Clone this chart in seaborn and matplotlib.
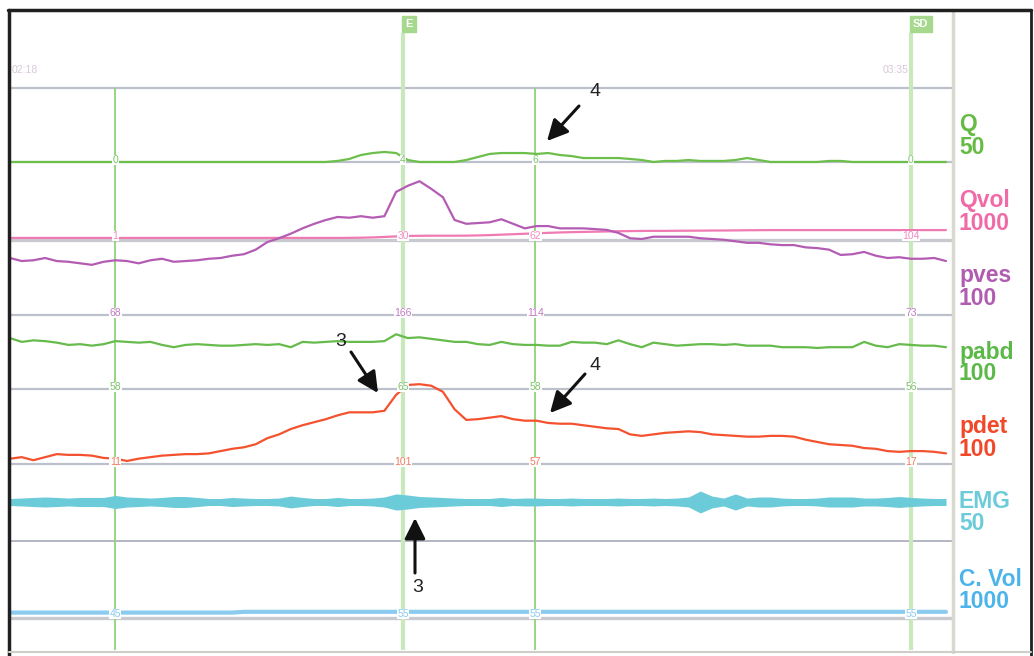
import numpy as np
import pandas as pd
import matplotlib
matplotlib.use('Agg')
import matplotlib.pyplot as plt
import seaborn as sns
from matplotlib.lines import Line2D

# urodynamic trace, one sample per second starting at 02:18
t_sec = np.arange(138, 219)

# Q, ml/s
q_flow = [0, 0, 0, 0, 0, 0, 0, 0, 0, 0,
          0, 0, 0, 0, 0, 0, 0, 0, 0, 0,
          0, 0, 0, 0, 0, 0, 0, 0, 0.7, 2.0,
          4.6, 5.9, 6.6, 5.9, 1.3, 0, 0, 0, 0, 1.3,
          3.3, 5.3, 5.9, 5.9, 5.9, 5.3, 5.9, 4.6, 3.9, 2.6,
          2.6, 2.6, 2.6, 2.0, 1.3, 0, 0.7, 0.7, 1.3, 0.7,
          0.7, 0.7, 1.3, 2.6, 1.3, 0, 0, 0, 0, 0,
          0.7, 0.7, 0, 0, 0, 0, 0, 0, 0, 0,
          0]
# voided volume, ml
q_vol = [1, 1, 1, 1, 1, 1, 1, 1, 1, 1,
         1, 1, 1, 1, 1, 1, 1, 1, 1, 1,
         1, 1, 1, 1, 1, 1, 1, 1, 1, 2,
         4, 8, 14, 21, 27, 29, 30, 30, 30, 31,
         34, 38, 44, 50, 56, 62, 68, 73, 77, 80,
         83, 86, 89, 91, 93, 94, 94, 95, 96, 97,
         98, 99, 100, 102, 103, 104, 104, 104, 104, 104,
         104, 104, 104, 104, 104, 104, 104, 104, 104, 104,
         104]
# pressures, cmH2O
p_ves = [75, 71, 72, 75, 71, 70, 68, 66, 70, 72,
         71, 68, 72, 74, 70, 71, 72, 74, 75, 78,
         80, 86, 96, 101, 107, 114, 120, 125, 129, 128,
         130, 128, 130, 162, 170, 176, 166, 155, 125, 120,
         121, 122, 126, 120, 114, 117, 117, 114, 114, 114,
         113, 112, 108, 101, 100, 103, 103, 103, 103, 101,
         100, 99, 97, 95, 95, 93, 92, 92, 89, 88,
         86, 79, 80, 83, 78, 75, 76, 74, 74, 75,
         71]
p_abd = [67, 62, 64, 63, 61, 58, 59, 57, 59, 63,
         62, 61, 62, 58, 55, 58, 59, 58, 57, 57,
         58, 59, 58, 59, 55, 62, 61, 62, 63, 62,
         62, 62, 63, 72, 67, 68, 66, 64, 62, 62,
         59, 58, 62, 59, 58, 58, 57, 57, 62, 61,
         61, 59, 64, 59, 55, 61, 59, 57, 58, 59,
         59, 58, 59, 57, 57, 57, 55, 55, 55, 54,
         55, 55, 55, 62, 57, 55, 59, 58, 57, 57,
         55]
p_det = [7, 9, 5, 9, 13, 12, 12, 11, 8, 7,
         4, 7, 9, 11, 12, 13, 13, 14, 17, 20,
         22, 26, 34, 39, 46, 51, 55, 59, 64, 68,
         68, 68, 70, 91, 104, 105, 103, 95, 72, 58,
         59, 61, 63, 59, 57, 57, 54, 53, 53, 51,
         49, 47, 46, 39, 37, 39, 41, 42, 43, 42,
         39, 38, 37, 36, 36, 37, 37, 36, 32, 29,
         26, 25, 24, 21, 20, 17, 16, 17, 17, 16,
         14]
# EMG envelope half amplitude, uV
emg_amp = [2.3, 2.6, 3.0, 3.3, 3.0, 2.6, 3.0, 3.0, 3.0, 4.3,
           3.3, 3.0, 2.6, 3.0, 3.6, 3.6, 3.0, 2.3, 2.3, 3.0,
           2.6, 2.3, 2.3, 2.6, 3.9, 3.0, 2.3, 2.3, 3.0, 2.3,
           2.3, 2.6, 3.3, 5.3, 4.6, 3.6, 3.3, 3.0, 2.6, 2.3,
           2.3, 2.3, 3.0, 2.3, 2.6, 2.6, 2.3, 2.3, 2.6, 2.3,
           2.3, 2.3, 2.6, 2.3, 2.3, 2.6, 2.3, 2.6, 3.3, 7.2,
           3.9, 2.6, 5.3, 2.6, 3.3, 3.3, 2.6, 2.3, 2.3, 2.6,
           3.3, 3.3, 3.3, 2.6, 2.6, 3.0, 3.6, 3.0, 2.6, 2.3,
           2.3]
# infused volume, ml
c_vol = [45, 45, 45, 45, 45, 45, 45, 45, 45, 45,
         45, 45, 45, 45, 45, 45, 45, 45, 45, 45,
         55, 55, 55, 55, 55, 55, 55, 55, 55, 55,
         55, 55, 55, 55, 55, 55, 55, 55, 55, 55,
         55, 55, 55, 55, 55, 55, 55, 55, 55, 55,
         55, 55, 55, 55, 55, 55, 55, 55, 55, 55,
         55, 55, 55, 55, 55, 55, 55, 55, 55, 55,
         55, 55, 55, 55, 55, 55, 55, 55, 55, 55,
         55]

event_times = [147, 171.6, 182.9, 215]
flag_times = [171.6, 215]
flag_text = ['E', 'SD']
time_labels = ['02:18', '03:35']

channel_names = ['Q', 'Qvol', 'pves', 'pabd', 'pdet', 'EMG', 'C. Vol']
channel_scales = [50, 1000, 100, 100, 100, 50, 1000]
channel_marks = [['0', '4', '6', '0'],
                 ['1', '30', '62', '104'],
                 ['68', '166', '114', '73'],
                 ['58', '65', '58', '56'],
                 ['11', '101', '57', '17'],
                 None,
                 ['45', '55', '55', '55']]

# ---- layout (pixel rows of the screen grab) ----
W, H = 1034, 656
PX_PER_SEC = 11.7
FULL = 76                       # px for a channel's full scale
base_rows = [162, 238, 315, 389, 464, 541, 616]
label_rows = [125, 201, 276, 352, 427, 502, 580]
emg_mid = 502
colors = ['#66bb44', '#f06aa8', '#b05cb0', '#5cb848', '#f2482a', '#6ccbd9', '#4cb4ea']
trace_colors = ['#6cbf4a', '#f07ab2', '#b45cb4', '#66bb4c', '#f4522e', '#6ccbd9', '#8ccbf0']
mark_colors = ['#7cc46a', '#f28cc0', '#c27ac2', '#7cc46a', '#f27a5c', '#6ccbd9', '#8ccbf0']
grid_gray = '#bcc0ca'

sns.set_style('white')
plt.rcParams['font.family'] = ['Liberation Sans', 'DejaVu Sans']

fig = plt.figure(figsize=(W / 100, H / 100), dpi=100)
ax = fig.add_axes([10 / W, (H - 650) / H, 942 / W, 638 / H])
ax.set_xlim(t_sec[0], t_sec[0] + 942 / PX_PER_SEC)
ax.set_ylim(650, 12)
ax.axis('off')


def to_row(vals, i):
    return base_rows[i] - np.asarray(vals, dtype=float) * FULL / channel_scales[i]


# separators / baselines
ax.axhline(88, color=grid_gray, lw=1.6, zorder=1)
for i, r in enumerate(base_rows):
    if i == 5:
        ax.axhline(r, color='#a6aab8', lw=1.2, zorder=1)
    elif i in (1, 6):
        ax.axhline(r + 1.5, color='#c8cad0', lw=2.4, zorder=1)
    else:
        ax.axhline(r, color=grid_gray, lw=1.6, zorder=1)

# event lines
thin = [t for t in event_times if t not in flag_times]
ax.vlines(thin, 88, 650, color='#8fd27a', lw=1.3, zorder=2)
ax.vlines(flag_times, 33, 650, color='#c9e8bb', lw=3, zorder=2)

# traces
df = pd.DataFrame({'t': t_sec, 'Q': to_row(q_flow, 0), 'Qvol': to_row(q_vol, 1),
                   'pves': to_row(p_ves, 2), 'pabd': to_row(p_abd, 3),
                   'pdet': to_row(p_det, 4), 'C. Vol': to_row(c_vol, 6)})
for i, name in enumerate(channel_names):
    if name == 'EMG':
        continue
    lw = 3.0 if name == 'C. Vol' else 1.6
    sns.lineplot(data=df, x='t', y=name, ax=ax, color=trace_colors[i], lw=lw,
                 estimator=None, zorder=4)

amp = np.asarray(emg_amp) * FULL / channel_scales[5]
ax.fill_between(t_sec, emg_mid - amp, emg_mid + amp,
                color=trace_colors[5], lw=0, zorder=4)

# value markers on each channel at the event lines
for i, marks in enumerate(channel_marks):
    if marks is None:
        continue
    for t, s in zip(event_times, marks):
        ax.text(t, base_rows[i] - 2, s, ha='center', va='center', fontsize=7.5,
                color=mark_colors[i], zorder=5,
                bbox=dict(fc='white', ec='none', pad=0.3))

# time labels
ax.text(t_sec[0] + 2 / PX_PER_SEC, 70, time_labels[0], fontsize=7.5, color='#d8c8da',
        va='center', ha='left')
ax.text(flag_times[1] - 2 / PX_PER_SEC, 70, time_labels[1], fontsize=7.5, color='#d8c8da',
        va='center', ha='right', zorder=1)

# flags
for t, s in zip(flag_times, flag_text):
    ax.text(t + 2 / PX_PER_SEC, 24, s, ha='left', va='center', fontsize=8, color='white',
            fontweight='bold', zorder=6,
            bbox=dict(fc='#a6d88e', ec='#a6d88e', boxstyle='square,pad=0.3'))

# channel names on the right
for i, name in enumerate(channel_names):
    fig.text(959 / W, 1 - label_rows[i] / H, name, fontsize=16.5, fontweight='bold',
             color=colors[i], va='center', ha='left')
    fig.text(959 / W, 1 - (label_rows[i] + 22) / H, str(channel_scales[i]),
             fontsize=16.5, fontweight='bold', color=colors[i], va='center', ha='left')

# arrows with numbers
arrows = [((579, 106), (547, 141), '4', (595, 92)),
          ((351, 352), (378, 393), '3', (341, 342)),
          ((585, 374), (550, 413), '4', (595, 365)),
          ((415, 573), (415, 518), '3', (418, 588))]
for start, end, s, pos in arrows:
    ax.annotate('', xy=(end[0], H - end[1]), xytext=(start[0], H - start[1]),
                xycoords='figure pixels', textcoords='figure pixels',
                arrowprops=dict(arrowstyle='-|>,head_length=0.9,head_width=0.45',
                                color='#111111', lw=2.2, mutation_scale=14,
                                shrinkA=0, shrinkB=0), zorder=7)
    fig.text(pos[0] / W, 1 - pos[1] / H, s, fontsize=14, color='#222222',
             ha='center', va='center')

# right panel border and outer frame
fig.add_artist(Line2D([953 / W, 953 / W], [1 - 12 / H, 1 - 652 / H], color='#d8d8cf', lw=2.5))
fig.add_artist(Line2D([8 / W, 1031 / W], [1 - 10 / H, 1 - 10 / H], color='#202020', lw=2.5))
fig.add_artist(Line2D([9 / W, 9 / W], [1 - 10 / H, 0], color='#202020', lw=2.5))
fig.add_artist(Line2D([1031 / W, 1031 / W], [1 - 10 / H, 0], color='#202020', lw=2.0))
fig.add_artist(Line2D([9 / W, 1031 / W], [1 - 652 / H, 1 - 652 / H], color='#cfcfc8', lw=1.5))

fig.savefig('out.png', dpi=100, facecolor='white')
